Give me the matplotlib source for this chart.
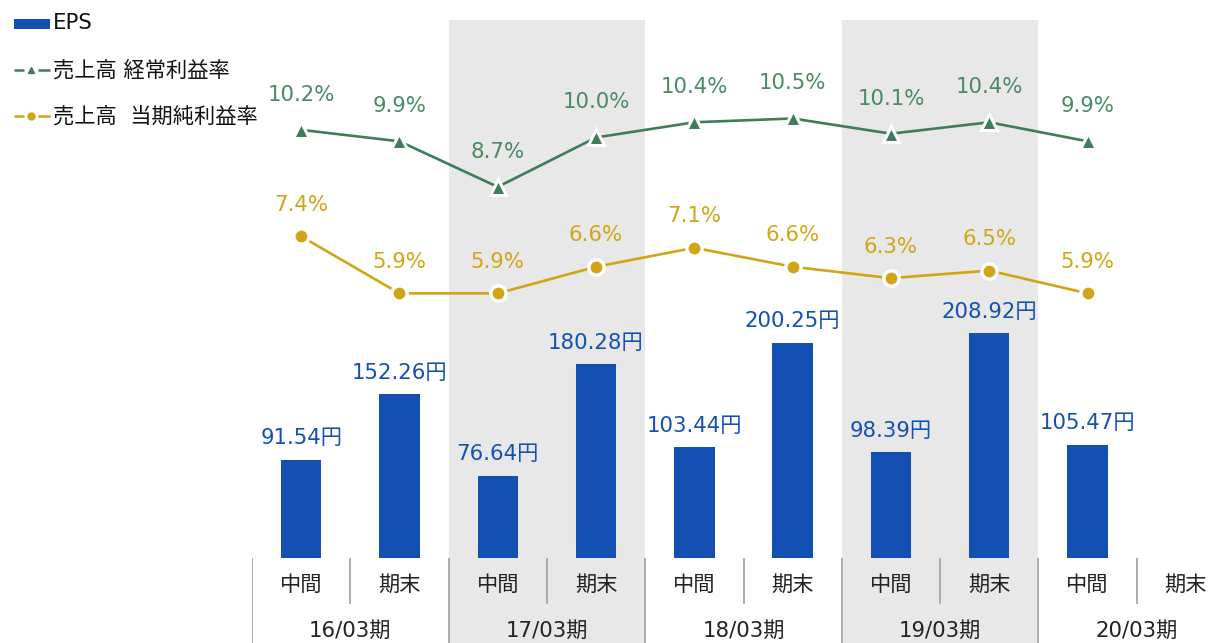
import matplotlib
matplotlib.use("Agg")
import matplotlib.pyplot as plt
from matplotlib.patches import Rectangle
import numpy as np

plt.rcParams['font.family'] = ['DejaVu Sans', 'Noto Sans CJK JP']

periods = ["16/03期", "17/03期", "18/03期", "19/03期", "20/03期"]
halves = ["中間", "期末"]
eps = [91.54, 152.26, 76.64, 180.28, 103.44, 200.25, 98.39, 208.92, 105.47]
ordinary_margin = [10.2, 9.9, 8.7, 10.0, 10.4, 10.5, 10.1, 10.4, 9.9]
net_margin = [7.4, 5.9, 5.9, 6.6, 7.1, 6.6, 6.3, 6.5, 5.9]
shaded_periods = [1, 3]

BLUE = "#1450B4"
GREEN = "#3E7D58"
GREEN_T = "#4A8A62"
YELLOW = "#D1A515"
GRAY_BG = "#E8E8E8"
GRID = "#A6A6A6"
FS = 15.3

W, H = 1228, 643
fig = plt.figure(figsize=(W / 100, H / 100), dpi=100)

ax_l, ax_r, ax_t, ax_b = 252, 1235, 20, 558
ax = fig.add_axes([ax_l / W, 1 - ax_b / H, (ax_r - ax_l) / W, (ax_b - ax_t) / H])
n_slots = len(periods) * 2
ax.set_xlim(-0.5, n_slots - 0.5)
ax.set_ylim(0, 500)
for s in ax.spines.values():
    s.set_visible(False)
ax.set_xticks([])
ax.set_yticks([])

for p in shaded_periods:
    ax.axvspan(2 * p - 0.5, 2 * p + 1.5, color=GRAY_BG, lw=0, zorder=0)

x = np.arange(len(eps))
ax.bar(x, eps, width=0.41, color=BLUE, zorder=2)
for xi, v in zip(x, eps):
    ax.annotate(f"{v:.2f}円", (xi, v), xytext=(0, 8), textcoords="offset points",
                ha="center", va="bottom", color=BLUE, fontsize=FS)

ax2 = ax.twinx()
ax2.set_ylim(-1.06, 13.09)
ax2.set_xlim(-0.5, n_slots - 0.5)
for s in ax2.spines.values():
    s.set_visible(False)
ax2.set_yticks([])
ax2.plot(x, ordinary_margin, color=GREEN, lw=1.9, marker="^", markersize=12,
         markerfacecolor=GREEN, markeredgecolor="white", markeredgewidth=2.2, zorder=3)
ax2.plot(x, net_margin, color=YELLOW, lw=1.9, marker="o", markersize=11,
         markerfacecolor=YELLOW, markeredgecolor="white", markeredgewidth=2.5, zorder=3)
for xi, v in zip(x, ordinary_margin):
    ax2.annotate(f"{v:.1f}%", (xi, v), xytext=(0, 18), textcoords="offset points",
                 ha="center", va="bottom", color=GREEN_T, fontsize=FS)
for xi, v in zip(x, net_margin):
    ax2.annotate(f"{v:.1f}%", (xi, v), xytext=(0, 15.5), textcoords="offset points",
                 ha="center", va="bottom", color=YELLOW, fontsize=FS)

# category table below
tab = fig.add_axes([ax_l / W, 0, (ax_r - ax_l) / W, (H - ax_b) / H])
tab.set_xlim(-0.5, n_slots - 0.5)
tab.set_ylim(0, 1)
tab.axis("off")
for p in shaded_periods:
    tab.axvspan(2 * p - 0.5, 2 * p + 1.5, color=GRAY_BG, lw=0, zorder=0)
row_split = (H - 603) / (H - ax_b)
for k in range(n_slots):
    xb = k - 0.5
    if k % 2 == 0:
        tab.plot([xb, xb], [0, 1], color=GRID, lw=1.3, zorder=1)
    else:
        tab.plot([xb, xb], [row_split, 1], color=GRID, lw=1.3, zorder=1)
for k in range(n_slots):
    tab.text(k, (H - 585) / (H - ax_b), halves[k % 2], ha="center", va="center",
             fontsize=FS, color="#222222")
for p, lab in enumerate(periods):
    tab.text(2 * p + 0.5, (H - 631) / (H - ax_b), lab, ha="center", va="center",
             fontsize=FS, color="#222222")

# legend
lg = fig.add_axes([0, 0, 1, 1])
lg.set_xlim(0, W)
lg.set_ylim(H, 0)
lg.axis("off")
lg.add_patch(Rectangle((14, 19), 36, 10, color=BLUE, lw=0))
lg.text(53, 23, "EPS", fontsize=FS, va="center", ha="left", color="#111111")
for yy, col, mk, ms, lab in [(70, GREEN, "^", 4, "売上高 経常利益率"),
                              (116, YELLOW, "o", 5, "売上高  当期純利益率")]:
    lg.plot([14, 24], [yy, yy], color=col, lw=1.8, solid_capstyle="butt")
    lg.plot([38, 50], [yy, yy], color=col, lw=1.8, solid_capstyle="butt")
    lg.plot([31], [yy], marker=mk, color=col, markersize=ms, lw=0)
    lg.text(53, yy, lab, fontsize=FS, va="center", ha="left", color="#111111")

fig.savefig("out.png", dpi=100)
